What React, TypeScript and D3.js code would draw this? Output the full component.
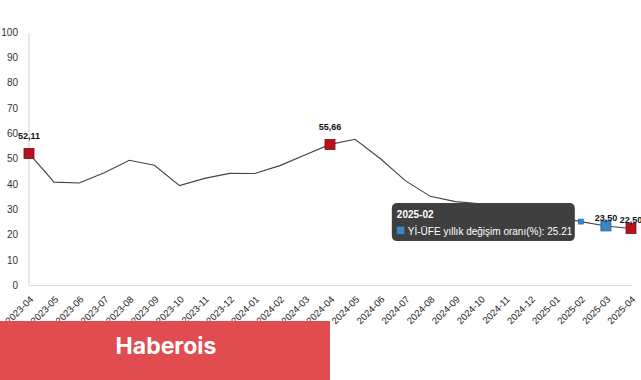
import React from "react";
import * as d3 from "d3";

const months = [
  "2023-04", "2023-05", "2023-06", "2023-07", "2023-08", "2023-09", "2023-10",
  "2023-11", "2023-12", "2024-01", "2024-02", "2024-03", "2024-04", "2024-05",
  "2024-06", "2024-07", "2024-08", "2024-09", "2024-10", "2024-11", "2024-12",
  "2025-01", "2025-02", "2025-03", "2025-04",
];
const values = [
  52.11, 40.76, 40.42, 44.5, 49.41, 47.44, 39.39, 42.25, 44.22, 44.2, 47.29,
  51.47, 55.66, 57.68, 50.09, 41.37, 35.17, 33.09, 32.24, 29.47, 28.52, 27.2,
  25.21, 23.5, 22.5,
];
const yTicks = [0, 10, 20, 30, 40, 50, 60, 70, 80, 90, 100];
const redMarkers = ["2023-04", "2024-04", "2025-04"];
const blueMarkers = ["2025-03"];
const labelledMonths = ["2023-04", "2024-04", "2025-03", "2025-04"];
const hoveredMonth = "2025-02";
const seriesName = "Yİ-ÜFE yıllık değişim oranı(%)";
const brand = "Haberois";

const W = 641;
const H = 380;
const FONT = "'Liberation Sans', Arial, sans-serif";

export default function App() {
  const x = d3.scalePoint<string>().domain(months).range([29, 631]);
  const y = d3.scaleLinear().domain([0, 100]).range([285.5, 32]);

  const pts = months.map((m, i) => ({ m, v: values[i] }));
  const line = d3
    .line<{ m: string; v: number }>()
    .x((d) => x(d.m) as number)
    .y((d) => y(d.v));

  const hi = hoveredMonth;
  const hiIdx = months.indexOf(hi);
  const hx = x(hi) as number;
  const hy = y(values[hiIdx]);
  const tipW = 183;
  const tipH = 38;
  const tipX = hx - 6 - tipW;
  const tipY = hy - tipH / 2 + 0.5;

  const labelDy = (m: string) =>
    m === "2025-03" || m === "2025-04" ? -5 : -14;

  return (
    <svg
      width={W}
      height={H}
      style={{ position: "absolute", left: 0, top: 0, display: "block", background: "#fff" }}
      fontFamily={FONT}
    >
      {/* axes */}
      <line x1={x(months[0])} x2={x(months[0])} y1={33} y2={y(0)} stroke="#d0d0d0" strokeWidth={1} />
      <line x1={x(months[0])} x2={(x(months[months.length - 1]) as number) + 1} y1={y(0)} y2={y(0)} stroke="#d8d8d8" strokeWidth={1} />

      {yTicks.map((t) => (
        <text key={t} x={18} y={y(t)} dy="0.35em" textAnchor="end" fontSize={10} fill="#333">
          {t}
        </text>
      ))}

      {months.map((m) => (
        <text
          key={m}
          transform={`translate(${(x(m) as number) + 5},${300}) rotate(-45)`}
          textAnchor="end"
          fontSize={9.5}
          fill="#222"
        >
          {m}
        </text>
      ))}

      {/* tooltip box (line shows over it) */}
      <rect x={tipX} y={tipY} width={tipW} height={tipH} rx={5} fill="#2f2f2f" fillOpacity={0.92} />

      <path d={line(pts) ?? ""} fill="none" stroke="#3a4450" strokeWidth={1.1} />

      {/* markers */}
      {pts
        .filter((p) => redMarkers.includes(p.m))
        .map((p) => (
          <rect
            key={p.m}
            x={(x(p.m) as number) - 5}
            y={y(p.v) - 5}
            width={10}
            height={10}
            fill="#b5121b"
            stroke="#7e0b11"
            strokeWidth={0.8}
          />
        ))}
      {pts
        .filter((p) => blueMarkers.includes(p.m))
        .map((p) => (
          <rect
            key={p.m}
            x={(x(p.m) as number) - 5}
            y={y(p.v) - 5}
            width={10}
            height={10}
            fill="#3a87c8"
            stroke="#245f93"
            strokeWidth={0.8}
          />
        ))}
      <rect x={hx - 2.5} y={hy - 2.5} width={5} height={5} fill="#3a87c8" stroke="#245f93" strokeWidth={0.6} />

      {pts
        .filter((p) => labelledMonths.includes(p.m))
        .map((p) => (
          <text
            key={p.m}
            x={x(p.m)}
            y={y(p.v) + labelDy(p.m)}
            textAnchor="middle"
            fontSize={9}
            fontWeight={600}
            fill="#111"
          >
            {p.v.toFixed(2).replace(".", ",")}
          </text>
        ))}

      {/* tooltip text */}
      <g>
        <text x={tipX + 5} y={tipY + 15} fontSize={10} fontWeight={700} fill="#fff">
          {hi}
        </text>
        <rect x={tipX + 5} y={tipY + 23.5} width={7.5} height={7.5} fill="#3a87c8" />
        <text x={tipX + 16} y={tipY + 32} fontSize={10} fill="#fff">
          {`${seriesName}: ${values[hiIdx].toFixed(2)}`}
        </text>
      </g>

      {/* watermark banner */}
      <rect x={0} y={321} width={330} height={H - 321} fill="#e04c50" />
      <text x={166} y={354} textAnchor="middle" fontFamily="Inter, 'Liberation Sans', sans-serif" fontSize={23} fontWeight={700} fill="#fff">
        {brand}
      </text>
    </svg>
  );
}
